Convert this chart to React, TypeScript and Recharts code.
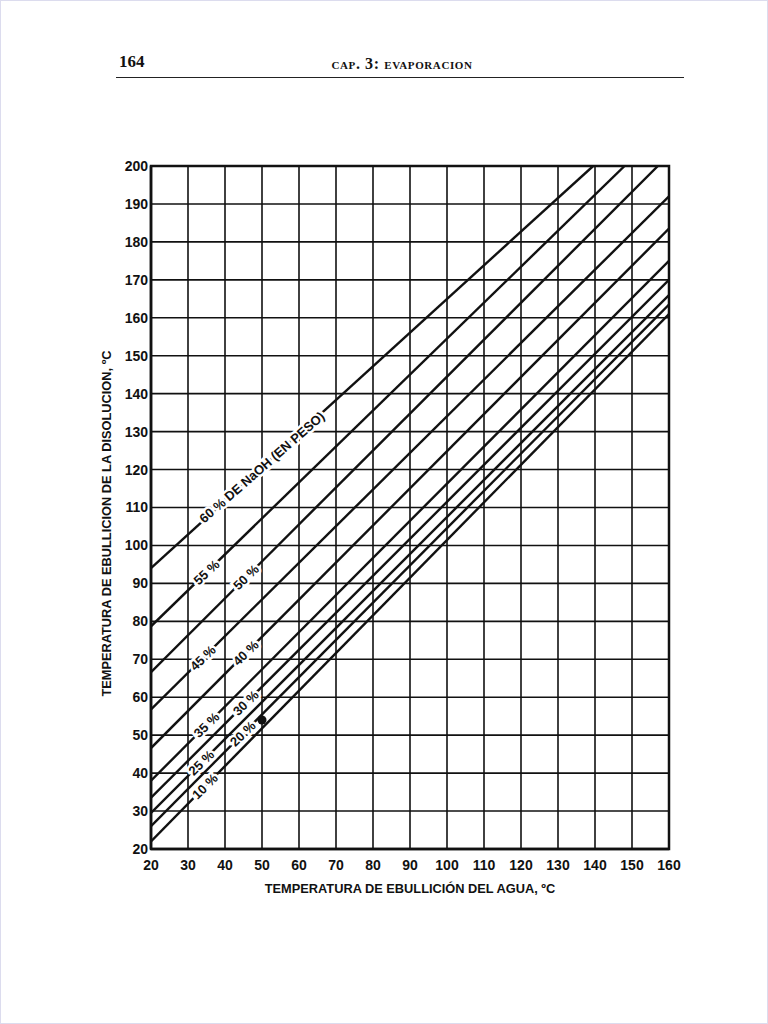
import { ComposedChart, Line, Scatter, XAxis, YAxis, CartesianGrid, ReferenceArea } from 'recharts';

// Dühring lines NaOH - water
const waterTicks = [20, 30, 40, 50, 60, 70, 80, 90, 100, 110, 120, 130, 140, 150, 160];
const solutionTicks = [20, 30, 40, 50, 60, 70, 80, 90, 100, 110, 120, 130, 140, 150, 160, 170, 180, 190, 200];

const concentrationLabels = ['60 % DE NaOH (EN PESO)', '55 %', '50 %', '45 %', '40 %', '35 %', '30 %', '25 %', '20 %', '10 %'];
const startWater = [20, 20, 20, 20, 20, 20, 20, 20, 20, 20];
const startSolution = [94, 78.7, 66.6, 56.8, 46.6, 38, 33.5, 29.5, 26, 22];
const endWater = [139.5, 148, 157, 160, 160, 160, 160, 160, 160, 160];
const endSolution = [200, 200, 200, 192, 183.5, 175, 170, 166, 163.5, 161];
const labelWater = [50, 35, 45.7, 34, 45.6, 35, 45.6, 33.6, 44.8, 34.6];

const samplePoint = [{ x: 50, y: 54 }];

const W = 768;
const H = 1024;
const margin = { top: 165, right: 100, bottom: 146, left: 105 };
const plotW = W - margin.left - margin.right;
const plotH = H - margin.top - margin.bottom;
const pxRatio = (plotH / 180) / (plotW / 140);

const lines = concentrationLabels.map((name, i) => ({
  name,
  data: [
    { x: startWater[i], y: startSolution[i] },
    { x: endWater[i], y: endSolution[i] },
  ],
}));

const labelPoints = concentrationLabels.map((text, i) => {
  const slope = (endSolution[i] - startSolution[i]) / (endWater[i] - startWater[i]);
  return {
    x: labelWater[i],
    y: startSolution[i] + slope * (labelWater[i] - startWater[i]),
    text,
    angle: -(Math.atan(slope * pxRatio) * 180) / Math.PI,
  };
});

const font = '"Liberation Sans", Arial, sans-serif';

const LineLabel = (p: any) => (
  <text
    x={p.cx}
    y={p.cy}
    transform={`rotate(${p.payload.angle} ${p.cx} ${p.cy})`}
    textAnchor="middle"
    dominantBaseline="central"
    fontSize={13}
    fontWeight={700}
    fontFamily={font}
    fill="#111"
    stroke="#fff"
    strokeWidth={5}
    paintOrder="stroke"
  >
    {p.payload.text}
  </text>
);

const Dot = (p: any) => <circle cx={p.cx} cy={p.cy} r={4.5} fill="#111" />;

const YTitle = ({ viewBox }: any) => {
  const x = viewBox.x;
  const y = viewBox.y + viewBox.height / 2 + 16;
  return (
    <text x={x} y={y} transform={`rotate(-90 ${x} ${y})`} textAnchor="middle" dominantBaseline="central"
      fontSize={12.8} fontWeight={700} fontFamily={font} fill="#111">
      TEMPERATURA DE EBULLICION DE LA DISOLUCION, ºC
    </text>
  );
};

export default function App() {
  return (
    <div style={{ position: 'absolute', left: 0, top: 0, width: W, height: H, background: '#fff', border: '1px solid #dcdcee', boxSizing: 'border-box' }}>
      <div style={{ position: 'absolute', left: 118, top: 51, fontFamily: '"Liberation Serif", serif', fontWeight: 700, fontSize: 17, color: '#111' }}>
        164
      </div>
      <div style={{ position: 'absolute', left: 281, width: 240, textAlign: 'center', top: 54, fontFamily: '"Liberation Serif", serif', fontWeight: 700, fontSize: 16, fontVariant: 'small-caps', letterSpacing: 0.6, color: '#111' }}>
        cap. 3: evaporacion
      </div>
      <div style={{ position: 'absolute', left: 115, top: 76, width: 568, height: 0, borderTop: '1.5px solid #222' }} />
      <div style={{ position: 'absolute', left: 0, top: 0 }}>
        <ComposedChart width={W} height={H} margin={margin}>
          <CartesianGrid stroke="#111" strokeWidth={1.6} />
          <XAxis
            type="number"
            dataKey="x"
            domain={[20, 160]}
            ticks={waterTicks}
            allowDataOverflow
            height={30}
            tickSize={0}
            tickMargin={11}
            axisLine={{ stroke: '#111', strokeWidth: 2.5 }}
            tick={{ fill: '#111', fontSize: 14, fontWeight: 600, fontFamily: font }}
            label={{ value: 'TEMPERATURA DE EBULLICIÓN DEL AGUA, ºC', position: 'bottom', offset: 5, fill: '#111', fontSize: 12.8, fontWeight: 700, fontFamily: font }}
          />
          <YAxis
            type="number"
            dataKey="y"
            domain={[20, 200]}
            ticks={solutionTicks}
            allowDataOverflow
            width={45}
            tickSize={0}
            tickMargin={3}
            axisLine={{ stroke: '#111', strokeWidth: 2.5 }}
            tick={{ fill: '#111', fontSize: 14, fontWeight: 600, fontFamily: font }}
            label={{ content: YTitle }}
          />
          <ReferenceArea x1={20} x2={160} y1={20} y2={200} fill="none" stroke="#111" strokeWidth={2.5} fillOpacity={0} />
          {lines.map((l) => (
            <Line
              key={l.name}
              data={l.data}
              dataKey="y"
              type="linear"
              stroke="#111"
              strokeWidth={2.4}
              dot={false}
              activeDot={false}
              isAnimationActive={false}
            />
          ))}
          <Scatter data={labelPoints} dataKey="y" shape={LineLabel} isAnimationActive={false} />
          <Scatter data={samplePoint} dataKey="y" shape={Dot} isAnimationActive={false} />
        </ComposedChart>
      </div>
    </div>
  );
}
